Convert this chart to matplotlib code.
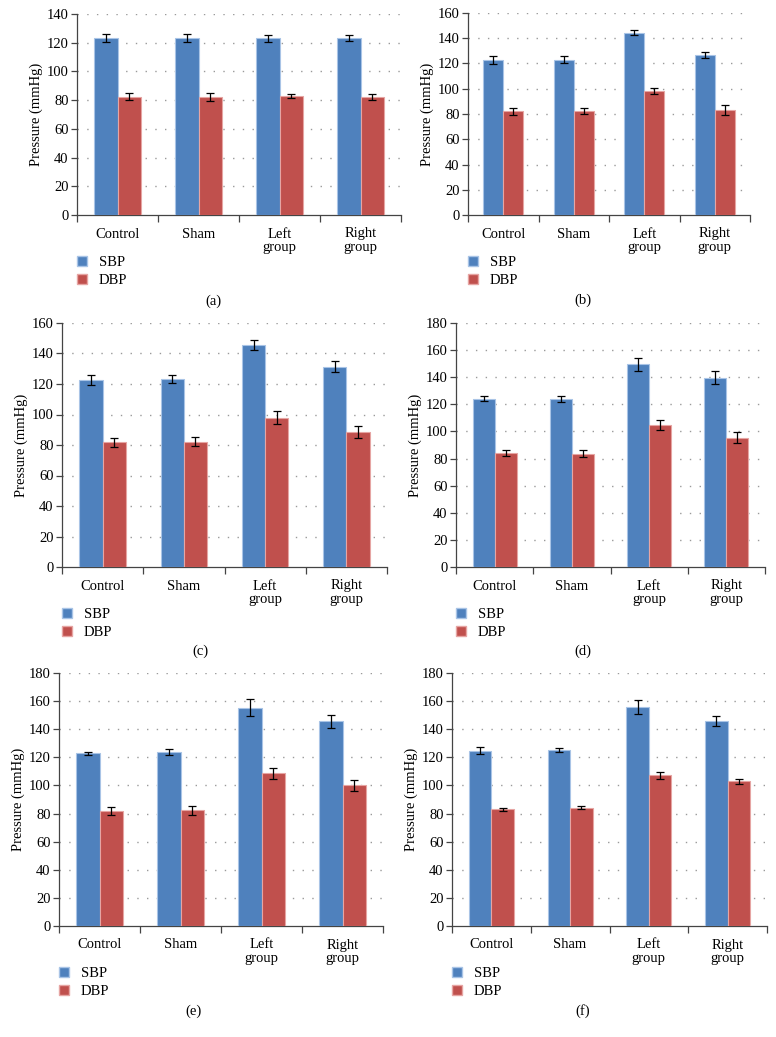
import numpy as np
import matplotlib
matplotlib.use("Agg")
import matplotlib.pyplot as plt
from matplotlib.patches import Patch

plt.rcParams["font.family"] = ["Liberation Serif", "DejaVu Serif"]

groups = ["Control", "Sham", "Left\ngroup", "Right\ngroup"]
panel_labels = ["(a)", "(b)", "(c)", "(d)", "(e)", "(f)"]
y_max = [140, 160, 160, 180, 180, 180]

# mean values and error bars (mmHg)
sbp_mean = [
    [123.0, 123.3, 123.0, 123.3],
    [122.5, 123.0, 144.4, 126.7],
    [122.6, 123.3, 145.4, 131.4],
    [124.2, 123.7, 149.7, 139.7],
    [122.8, 124.0, 155.3, 145.6],
    [124.7, 125.1, 155.8, 145.6],
]
sbp_err = [
    [2.8, 2.7, 2.4, 2.0],
    [3.2, 2.9, 2.2, 2.6],
    [3.0, 2.7, 3.2, 3.7],
    [1.8, 2.2, 4.8, 4.8],
    [1.2, 2.0, 5.9, 4.5],
    [2.3, 1.3, 4.8, 3.6],
]
dbp_mean = [
    [82.4, 82.0, 82.9, 82.4],
    [82.0, 82.3, 98.1, 83.0],
    [81.7, 82.2, 97.9, 88.7],
    [83.8, 83.6, 105.0, 95.4],
    [81.7, 82.2, 108.5, 100.0],
    [82.9, 84.3, 107.3, 103.0],
]
dbp_err = [
    [2.5, 2.8, 1.4, 2.0],
    [2.8, 2.6, 2.5, 4.0],
    [3.0, 2.8, 4.4, 3.9],
    [2.2, 2.5, 3.7, 4.0],
    [2.8, 3.0, 3.8, 3.7],
    [1.4, 1.2, 2.5, 1.7],
]

BLUE = "#4F81BD"
RED = "#C0504D"
FS = 10.5

W, H = 776, 1037
# axes boxes in pixels: left, right, top, bottom
boxes = [
    (77, 401, 14, 215),
    (468, 750, 13, 215),
    (62, 387, 323, 567),
    (456, 765, 323, 567),
    (59, 383, 673, 926),
    (452, 767, 673, 926),
]
label_pos = [(213, 301), (583, 300), (200, 651), (583, 651), (194, 1011), (583, 1011)]

fig = plt.figure(figsize=(W / 100, H / 100), dpi=100)
fig.patch.set_facecolor("white")

x = np.arange(len(groups))
bw = 0.285

for i, (l, r, t, b) in enumerate(boxes):
    ax = fig.add_axes([l / W, 1 - b / H, (r - l) / W, (b - t) / H])
    ax.bar(x - bw / 2, sbp_mean[i], bw, color=BLUE, edgecolor="#A9C4E6",
           linewidth=0.8, zorder=3, label="SBP")
    ax.bar(x + bw / 2, dbp_mean[i], bw, color=RED, edgecolor="#E6A5A3",
           linewidth=0.8, zorder=3, label="DBP")
    ax.errorbar(x - bw / 2, sbp_mean[i], yerr=sbp_err[i], fmt="none",
                ecolor="black", elinewidth=0.9, capsize=2.8, capthick=0.9, zorder=4)
    ax.errorbar(x + bw / 2, dbp_mean[i], yerr=dbp_err[i], fmt="none",
                ecolor="black", elinewidth=0.9, capsize=2.8, capthick=0.9, zorder=4)

    ax.set_xlim(-0.5, len(groups) - 0.5)
    ax.set_ylim(0, y_max[i])
    ax.set_yticks(np.arange(0, y_max[i] + 1, 20))
    for yv in np.arange(20, y_max[i] + 1, 20):
        ax.axhline(yv, color="#9a9a9a", linestyle=(0, (1, 6)), linewidth=1.0, zorder=1)

    ax.set_xticks(x)
    ax.set_xticklabels(groups, fontsize=FS, linespacing=1.05)
    ax.set_xticks(np.arange(-0.5, len(groups)), minor=True)
    ax.tick_params(axis="x", which="major", length=0, pad=9)
    ax.tick_params(axis="x", which="minor", length=5, width=0.9, color="#444444")
    ax.tick_params(axis="y", length=4, width=0.9, color="#444444", labelsize=FS, pad=2)
    ax.set_ylabel("Pressure (mmHg)", fontsize=FS, labelpad=3)

    for s in ["top", "right"]:
        ax.spines[s].set_visible(False)
    for s in ["left", "bottom"]:
        ax.spines[s].set_color("#444444")
        ax.spines[s].set_linewidth(0.9)

    handles = [Patch(facecolor=BLUE, edgecolor="#A9C4E6", label="SBP"),
               Patch(facecolor=RED, edgecolor="#E6A5A3", label="DBP")]
    ax.legend(handles=handles, loc="upper left",
              bbox_to_anchor=(0.0, -41 / (b - t)), frameon=False, fontsize=FS,
              handlelength=0.7, handleheight=0.7, handletextpad=0.8,
              labelspacing=0.3, borderaxespad=0, borderpad=0)

    lx, ly = label_pos[i]
    fig.text(lx / W, 1 - ly / H, panel_labels[i], ha="center", va="center", fontsize=FS)

fig.savefig("out.png", dpi=100, facecolor="white")
